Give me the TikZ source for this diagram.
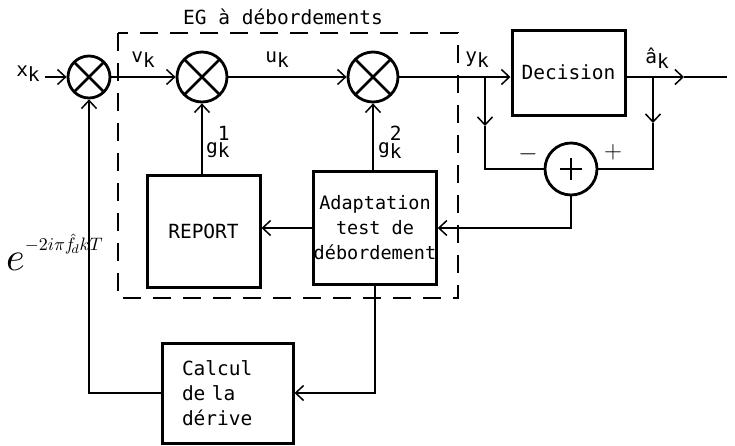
\documentclass[tikz,border=0pt]{standalone}
\usepackage{graphicx}
\usepackage{fontspec}
\newfontfamily\tw{DejaVu Sans Mono}
\usetikzlibrary{arrows.meta}
\newcommand\lowk[1]{\raisebox{-0.45ex}{#1}}
\begin{document}
\begin{tikzpicture}[x=1pt,y=-1pt,
  sig/.style={line width=2.6pt},
  arr/.style={sig,-{Straight Barb[length=8pt,width=15pt,line width=1.5pt]}},
  mult/.style={circle,draw,line width=2.8pt,inner sep=0pt,minimum size=#1,
    path picture={\draw[line width=2.8pt]
      (path picture bounding box.north west)--(path picture bounding box.south east)
      (path picture bounding box.north east)--(path picture bounding box.south west);}},
  summ/.style={circle,draw,line width=2.8pt,inner sep=0pt,minimum size=#1,
    path picture={\draw[line width=1.8pt]
      ([xshift=-11pt]path picture bounding box.center)--([xshift=11pt]path picture bounding box.center)
      ([yshift=-11pt]path picture bounding box.center)--([yshift=11pt]path picture bounding box.center);}},
  blk/.style={draw,line width=3pt,inner sep=0pt,font=\tw\fontsize{19.5}{25}\selectfont},
  lbl/.style={font=\tw\fontsize{19.5}{22}\selectfont,inner sep=0pt},
  grp/.style={line width=1.5pt,dash pattern=on 18pt off 12pt}
]
\useasboundingbox (0,0) rectangle (735,445);

% group box
\draw[grp] (118,33) rectangle (458,298);
\node[lbl] (title) at (283,17) {EG à débordements};

% nodes
\node[mult=42pt] (c1) at (89,77) {};
\node[mult=50pt] (c2) at (202,77) {};
\node[mult=50pt] (c3) at (373,77) {};
\node[blk,minimum width=113pt,minimum height=85pt] (dec) at (568.5,72.5) {Decision};
\node[summ=52pt] (sum) at (571,169) {};
\node[blk,minimum width=113pt,minimum height=112pt] (rep) at (203.5,231) {REPORT};
\node[blk,minimum width=114pt,minimum height=113pt,align=center,
  font=\tw\fontsize{18.5}{25}\selectfont] (ada) at (375,228)
  {Adaptation\\test de\\débordement};
\node[blk,minimum width=131pt,minimum height=100pt,text width=91pt,inner xsep=20pt,align=left] (calc) at (227.5,393)
  {Calcul\\de la\\dérive};

% coordinates
\coordinate (xin) at (45,77);
\coordinate (ytap) at (485,77);
\coordinate (ymid) at (485,126);
\coordinate (atap) at (653,77);
\coordinate (amid) at (653,123);
\coordinate (omid) at (684,77);
\coordinate (oend) at (727,77);

% connectors
\draw[arr] (xin) -- (c1.west);
\draw[arr] (c1.east) -- (c2.west);
\draw[arr] (c2.east) -- (c3.west);
\draw[arr] (c3.east) -- (c3.east -| dec.west);
\draw[arr] (ytap) -- (ymid);
\draw[sig] (ymid) |- (sum.west);
\draw[arr] (dec.east |- omid) -- (omid);
\draw[sig] (omid) -- (oend);
\draw[arr] (atap) -- (amid);
\draw[sig] (amid) |- (sum.east);
\draw[arr] (sum.south) |- (ada.east);
\draw[arr] (ada.west) -- (rep.east |- ada.west);
\draw[arr] (c2.south |- rep.north) -- (c2.south);
\draw[arr] (c3.south |- ada.north) -- (c3.south);
\draw[arr] (ada.south) |- (calc.east);
\draw[arr] (calc.west) -| (c1.south);

% labels
\node[lbl] (xk) at (28,74) {x\lowk{k}};
\node[lbl] (vk) at (143,60) {v\lowk{k}};
\node[lbl] (uk) at (277,60) {u\lowk{k}};
\node[lbl] (yk) at (477,60) {y\lowk{k}};
\node[lbl] (ak) at (657,58) {â\lowk{k}};
\node[lbl,anchor=west] (g1) at (206,142) {g\makebox[0pt][l]{\raisebox{1.2ex}{1}}\lowk{k}};
\node[lbl,anchor=west] (g2) at (378,142) {g\makebox[0pt][l]{\raisebox{1.2ex}{2}}\lowk{k}};
\node[inner sep=0pt,font=\fontsize{30}{30}\selectfont] (mn) at (528,154) {$-$};
\node[inner sep=0pt,font=\fontsize{30}{30}\selectfont] (pl) at (613,152) {$+$};
\node[inner sep=0pt,anchor=south west] (ex) at (6,271)
  {\scalebox{4}{$e$}\raisebox{20pt}{\scalebox{1.8}{$-2i\pi\hat{f}_{\!d}kT$}}};
\end{tikzpicture}
\end{document}
